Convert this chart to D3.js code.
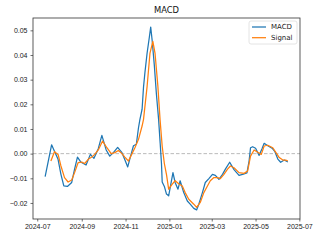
<!DOCTYPE html>
<html>
<head>
<meta charset="utf-8">
<script src="https://cdn.jsdelivr.net/npm/d3@7"></script>
<style>
  body { margin: 0; background: #fff; }
  svg { display: block; font-family: "DejaVu Sans", sans-serif; }
</style>
</head>
<body>
<div id="chart"></div>
<script>
// MACD line
var macdDates = ["2024-07-12","2024-07-21","2024-07-25","2024-07-30","2024-08-03","2024-08-07","2024-08-12","2024-08-18",
  "2024-08-22","2024-08-26","2024-08-31","2024-09-07","2024-09-13","2024-09-18","2024-09-24","2024-09-29",
  "2024-10-05","2024-10-10","2024-10-15","2024-10-21","2024-10-27","2024-10-31","2024-11-04","2024-11-08",
  "2024-11-12","2024-11-16","2024-11-19","2024-11-21","2024-11-24","2024-11-26","2024-11-28","2024-12-01",
  "2024-12-04","2024-12-06","2024-12-08","2024-12-11","2024-12-14","2024-12-17","2024-12-19","2024-12-21",
  "2024-12-22","2024-12-25","2024-12-28","2024-12-31","2025-01-06","2025-01-09","2025-01-13","2025-01-16",
  "2025-01-21","2025-01-26","2025-01-30","2025-02-04","2025-02-08","2025-02-11","2025-02-16","2025-02-20",
  "2025-02-25","2025-03-02","2025-03-06","2025-03-11","2025-03-16","2025-03-20","2025-03-26","2025-04-01",
  "2025-04-08","2025-04-13","2025-04-19","2025-04-22","2025-04-24","2025-04-27","2025-05-01","2025-05-06",
  "2025-05-10","2025-05-13","2025-05-18","2025-05-24","2025-05-28","2025-06-01","2025-06-05","2025-06-10",
  "2025-06-15"];
var macdValues = [-0.0093, 0.0036, 0.0010, -0.0023, -0.0084, -0.0131, -0.0133, -0.0117,
  -0.0063, -0.0014, -0.0035, -0.0046, -0.0003, -0.0019, 0.0020, 0.0074,
  0.0015, -0.0010, 0.0004, 0.0025, 0.0004, -0.0025, -0.0054, -0.0010,
  0.0032, 0.0038, 0.0105, 0.0139, 0.0180, 0.0270, 0.0330, 0.0408,
  0.0470, 0.0513, 0.0460, 0.0360, 0.0240, 0.0139, 0.0050, -0.0040,
  -0.0115, -0.0133, -0.0164, -0.0171, -0.0077, -0.0117, -0.0144, -0.0110,
  -0.0158, -0.0192, -0.0205, -0.0222, -0.0228, -0.0205, -0.0158, -0.0117,
  -0.0101, -0.0084, -0.0088, -0.0104, -0.0084, -0.0063, -0.0035, -0.0065,
  -0.0088, -0.0084, -0.0078, -0.0030, 0.0024, 0.0028, 0.0022, -0.0007,
  0.0020, 0.0042, 0.0032, 0.0022, 0.0008, -0.0022, -0.0035, -0.0026,
  -0.0034];

// Signal line
var signalDates = ["2024-07-20","2024-07-25","2024-07-30","2024-08-03","2024-08-08","2024-08-13","2024-08-18","2024-08-22",
  "2024-08-27","2024-09-01","2024-09-05","2024-09-10","2024-09-15","2024-09-19","2024-09-24","2024-09-30",
  "2024-10-06","2024-10-12","2024-10-17","2024-10-22","2024-10-27","2024-10-31","2024-11-05","2024-11-10",
  "2024-11-14","2024-11-19","2024-11-24","2024-11-26","2024-12-01","2024-12-05","2024-12-09","2024-12-12",
  "2024-12-16","2024-12-19","2024-12-22","2024-12-25","2024-12-28","2024-12-31","2025-01-05","2025-01-09",
  "2025-01-14","2025-01-19","2025-01-23","2025-01-28","2025-02-04","2025-02-08","2025-02-13","2025-02-18",
  "2025-02-23","2025-02-27","2025-03-04","2025-03-09","2025-03-13","2025-03-18","2025-03-23","2025-03-27",
  "2025-04-01","2025-04-08","2025-04-15","2025-04-20","2025-04-24","2025-04-29","2025-05-04","2025-05-09",
  "2025-05-13","2025-05-18","2025-05-25","2025-05-29","2025-06-03","2025-06-08","2025-06-12","2025-06-15"];
var signalValues = [-0.0030, 0.0008, -0.0003, -0.0050, -0.0097, -0.0115, -0.0107, -0.0077,
  -0.0036, -0.0034, -0.0040, -0.0023, -0.0014, -0.0003, 0.0015, 0.0051,
  0.0024, 0.0000, 0.0004, 0.0013, 0.0000, -0.0014, -0.0030, 0.0000,
  0.0024, 0.0058, 0.0112, 0.0139, 0.0273, 0.0408, 0.0455, 0.0408,
  0.0273, 0.0139, 0.0030, -0.0040, -0.0085, -0.0144, -0.0124, -0.0110,
  -0.0122, -0.0131, -0.0158, -0.0185, -0.0205, -0.0218, -0.0198, -0.0158,
  -0.0131, -0.0110, -0.0097, -0.0097, -0.0101, -0.0084, -0.0063, -0.0050,
  -0.0057, -0.0077, -0.0080, -0.0070, -0.0010, 0.0015, 0.0006, -0.0003,
  0.0031, 0.0034, 0.0024, 0.0006, -0.0016, -0.0026, -0.0026, -0.0030];

var yTicks = [-0.02, -0.01, 0.00, 0.01, 0.02, 0.03, 0.04, 0.05];
var seriesNames = ["MACD", "Signal"];
var seriesColors = ["#1f77b4", "#ff7f0e"];

var W = 320, H = 240;
var margin = {left: 33, right: 20, top: 18, bottom: 21};
var parse = d3.utcParse("%Y-%m-%d");

var macd = macdDates.map(function(d, i) { return {date: parse(d), value: macdValues[i]}; });
var signal = signalDates.map(function(d, i) { return {date: parse(d), value: signalValues[i]}; });
var all = macd.concat(signal);

// matplotlib style 5% padding
var xExt = d3.extent(all, function(d) { return d.date; });
var xPad = (xExt[1] - xExt[0]) * 0.05;
var yExt = d3.extent(all, function(d) { return d.value; });
var yPad = (yExt[1] - yExt[0]) * 0.05;

var x = d3.scaleUtc()
    .domain([new Date(+xExt[0] - xPad), new Date(+xExt[1] + xPad)])
    .range([margin.left, W - margin.right]);
var y = d3.scaleLinear()
    .domain([yExt[0] - yPad, yExt[1] + yPad])
    .range([H - margin.bottom, margin.top]);

var svg = d3.select("#chart").append("svg")
    .attr("width", W)
    .attr("height", H);

// zero line
svg.append("line")
    .attr("x1", margin.left).attr("x2", W - margin.right)
    .attr("y1", y(0)).attr("y2", y(0))
    .attr("stroke", "#a8a8a8")
    .attr("stroke-width", 0.8)
    .attr("stroke-dasharray", "3.5,2");

var line = d3.line()
    .x(function(d) { return x(d.date); })
    .y(function(d) { return y(d.value); });

[macd, signal].forEach(function(s, i) {
    svg.append("path")
        .datum(s)
        .attr("fill", "none")
        .attr("stroke", seriesColors[i])
        .attr("stroke-width", 1.25)
        .attr("stroke-linejoin", "round")
        .attr("d", line);
});

// axes
var xAxis = d3.axisBottom(x)
    .ticks(d3.utcMonth.every(2))
    .tickFormat(d3.utcFormat("%Y-%m"))
    .tickSize(2.5)
    .tickPadding(3);
var yAxis = d3.axisLeft(y)
    .tickValues(yTicks)
    .tickFormat(function(d) { return d3.format(".2f")(d).replace("-", "\u2212"); })
    .tickSize(2.5)
    .tickPadding(3);

var gx = svg.append("g")
    .attr("transform", "translate(0," + (H - margin.bottom) + ")")
    .call(xAxis);
var gy = svg.append("g")
    .attr("transform", "translate(" + margin.left + ",0)")
    .call(yAxis);
[gx, gy].forEach(function(g) {
    g.select(".domain").remove();
    g.selectAll(".tick line").attr("stroke", "#333").attr("stroke-width", 0.7);
    g.selectAll(".tick text").attr("fill", "#222").style("font-size", "7px");
});

// frame
svg.append("rect")
    .attr("x", margin.left).attr("y", margin.top)
    .attr("width", W - margin.left - margin.right)
    .attr("height", H - margin.top - margin.bottom)
    .attr("fill", "none")
    .attr("stroke", "#333")
    .attr("stroke-width", 0.8);

// title
svg.append("text")
    .attr("x", (margin.left + W - margin.right) / 2)
    .attr("y", 13)
    .attr("text-anchor", "middle")
    .attr("fill", "#111")
    .style("font-size", "8.4px")
    .text("MACD");

// legend
var legend = svg.append("g")
    .attr("transform", "translate(" + (W - margin.right - 51) + "," + (margin.top + 3) + ")");
legend.append("rect")
    .attr("width", 48).attr("height", 23)
    .attr("rx", 2)
    .attr("fill", "#fff")
    .attr("fill-opacity", 0.8)
    .attr("stroke", "#ddd")
    .attr("stroke-width", 0.8);
seriesNames.forEach(function(name, i) {
    var ly = 6 + i * 10.7;
    legend.append("line")
        .attr("x1", 3).attr("x2", 17)
        .attr("y1", ly).attr("y2", ly)
        .attr("stroke", seriesColors[i])
        .attr("stroke-width", 1.25);
    legend.append("text")
        .attr("x", 22).attr("y", ly + 2.3)
        .attr("fill", "#222")
        .style("font-size", "7px")
        .text(name);
});
</script>
</body>
</html>
